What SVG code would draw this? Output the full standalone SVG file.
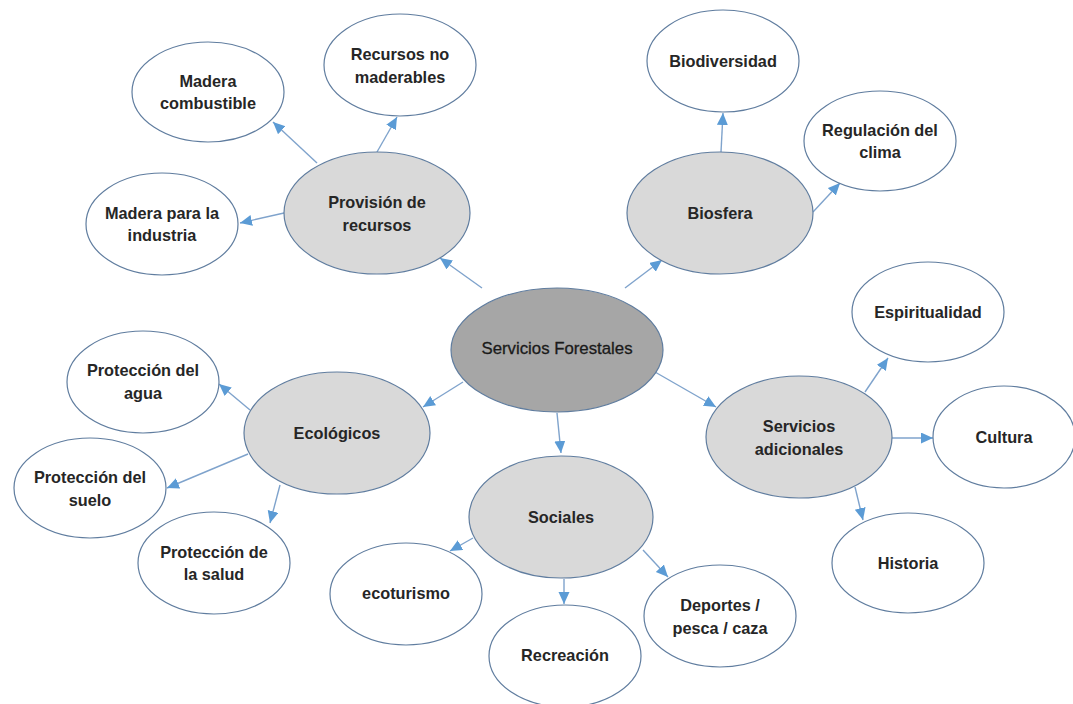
<svg xmlns="http://www.w3.org/2000/svg" width="1073" height="704" viewBox="0 0 1073 704">
<style>
.leaf{fill:#ffffff;stroke:#607d9f;stroke-width:1.2}
.mid{fill:#d9d9d9;stroke:#607d9f;stroke-width:1.2}
.core{fill:#a6a6a6;stroke:#607d9f;stroke-width:1.2}
text{font-family:"Liberation Sans",Arial,sans-serif;font-size:16.3px;font-weight:bold;fill:#262626;text-anchor:middle;dominant-baseline:central}
.ct{font-weight:normal;font-size:16.8px;fill:#1a1a1a;stroke:#1a1a1a;stroke-width:0.3}
.cn line{stroke:#7fa3cc;stroke-width:1.4;marker-end:url(#ah)}
</style>
<defs>
<marker id="ah" markerUnits="userSpaceOnUse" markerWidth="13" markerHeight="12" refX="12" refY="5.5" orient="auto">
<path d="M0,0 L12,5.5 L0,11 z" fill="#5b9bd5"/>
</marker>
</defs>
<rect width="1073" height="704" fill="#ffffff"/>
<g id="connectors" class="cn">
<line x1="482" y1="288" x2="440" y2="258"/>
<line x1="625" y1="288" x2="662" y2="260"/>
<line x1="463" y1="382" x2="423" y2="407"/>
<line x1="557" y1="413" x2="561" y2="453"/>
<line x1="655" y1="372" x2="716" y2="407"/>
<line x1="317" y1="163" x2="273" y2="122"/>
<line x1="377" y1="152" x2="397" y2="117"/>
<line x1="284" y1="213" x2="240" y2="223"/>
<line x1="721" y1="152" x2="723" y2="113"/>
<line x1="813" y1="212" x2="840" y2="183"/>
<line x1="865" y1="392" x2="888" y2="358"/>
<line x1="892" y1="438" x2="933" y2="438"/>
<line x1="855" y1="487" x2="863" y2="520"/>
<line x1="250" y1="410" x2="219" y2="384"/>
<line x1="248" y1="454" x2="167" y2="488"/>
<line x1="280" y1="485" x2="270" y2="523"/>
<line x1="473" y1="538" x2="450" y2="551"/>
<line x1="564" y1="579" x2="564" y2="604"/>
<line x1="643" y1="550" x2="668" y2="577"/>
</g>
<g id="servicios-forestales"><ellipse class="core" cx="557" cy="350" rx="106" ry="62"/><text class="ct" x="557" y="348">Servicios Forestales</text></g>
<g id="provision"><ellipse class="mid" cx="377" cy="213" rx="93" ry="61"/><text x="377" y="202">Provisión de</text><text x="377" y="225">recursos</text></g>
<g id="biosfera"><ellipse class="mid" cx="720" cy="213" rx="93" ry="61"/><text x="720" y="213">Biosfera</text></g>
<g id="ecologicos"><ellipse class="mid" cx="337" cy="433" rx="93" ry="61"/><text x="337" y="433">Ecológicos</text></g>
<g id="sociales"><ellipse class="mid" cx="561" cy="517" rx="92" ry="61"/><text x="561" y="517">Sociales</text></g>
<g id="servicios-adicionales"><ellipse class="mid" cx="799" cy="437" rx="93" ry="61"/><text x="799" y="426">Servicios</text><text x="799" y="449">adicionales</text></g>
<g id="madera-combustible"><ellipse class="leaf" cx="208" cy="92" rx="76" ry="50"/><text x="208" y="81">Madera</text><text x="208" y="103">combustible</text></g>
<g id="recursos-no-maderables"><ellipse class="leaf" cx="400" cy="65" rx="76" ry="51"/><text x="400" y="54">Recursos no</text><text x="400" y="77">maderables</text></g>
<g id="madera-industria"><ellipse class="leaf" cx="162" cy="224" rx="76" ry="51"/><text x="162" y="213">Madera para la</text><text x="162" y="235">industria</text></g>
<g id="biodiversidad"><ellipse class="leaf" cx="723" cy="61" rx="76" ry="51"/><text x="723" y="61">Biodiversidad</text></g>
<g id="regulacion-clima"><ellipse class="leaf" cx="880" cy="141" rx="76" ry="50"/><text x="880" y="130">Regulación del</text><text x="880" y="152">clima</text></g>
<g id="espiritualidad"><ellipse class="leaf" cx="928" cy="312" rx="76" ry="50"/><text x="928" y="312">Espiritualidad</text></g>
<g id="cultura"><ellipse class="leaf" cx="1004" cy="437" rx="71" ry="51"/><text x="1004" y="437">Cultura</text></g>
<g id="historia"><ellipse class="leaf" cx="908" cy="563" rx="76" ry="50"/><text x="908" y="563">Historia</text></g>
<g id="proteccion-agua"><ellipse class="leaf" cx="143" cy="382" rx="76" ry="51"/><text x="143" y="370">Protección del</text><text x="143" y="393">agua</text></g>
<g id="proteccion-suelo"><ellipse class="leaf" cx="90" cy="488" rx="76" ry="50"/><text x="90" y="477">Protección del</text><text x="90" y="500">suelo</text></g>
<g id="proteccion-salud"><ellipse class="leaf" cx="214" cy="563" rx="76" ry="51"/><text x="214" y="552">Protección de</text><text x="214" y="574">la salud</text></g>
<g id="ecoturismo"><ellipse class="leaf" cx="406" cy="594" rx="76" ry="51"/><text x="406" y="593">ecoturismo</text></g>
<g id="recreacion"><ellipse class="leaf" cx="565" cy="656" rx="76" ry="51"/><text x="565" y="655">Recreación</text></g>
<g id="deportes"><ellipse class="leaf" cx="720" cy="616" rx="76" ry="51"/><text x="720" y="605">Deportes /</text><text x="720" y="628">pesca / caza</text></g>
</svg>
